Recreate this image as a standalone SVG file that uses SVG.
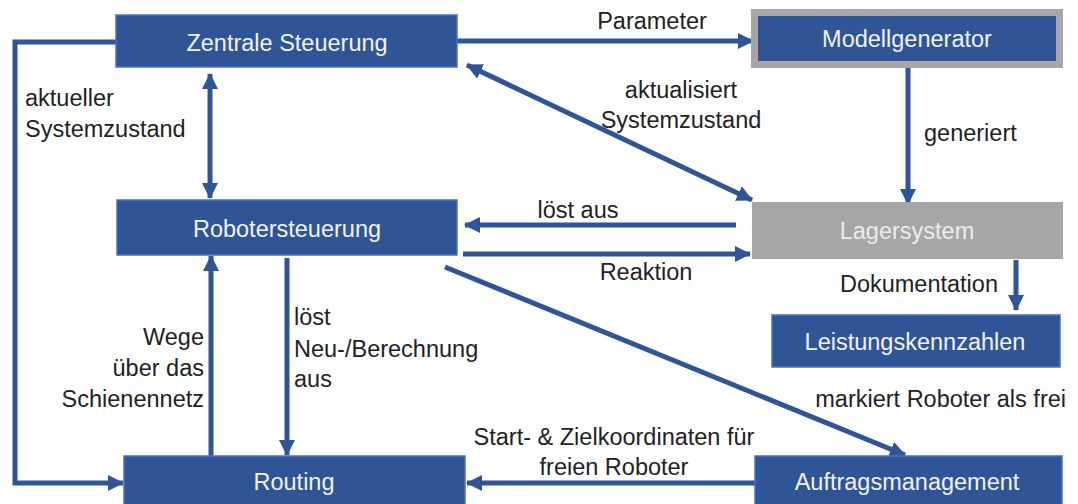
<svg xmlns="http://www.w3.org/2000/svg" width="1078" height="504" viewBox="0 0 1078 504">
<defs>
<style>
.box{fill:#2f5597;stroke:#4a72bd;stroke-width:1.5}
.gray{fill:#a6a6a6}
.bt{font-family:"Liberation Sans",Arial,sans-serif;font-size:23.5px;fill:#f2f2f2;text-anchor:middle}
.gt{font-family:"Liberation Sans",Arial,sans-serif;font-size:23.5px;fill:#ececec;text-anchor:middle}
.lb{font-family:"Liberation Sans",Arial,sans-serif;font-size:23.5px;fill:#222}
.c{fill:none;stroke:#2f5597;stroke-width:5}
</style>
<marker id="ah" viewBox="0 0 16 16" refX="15" refY="8" markerWidth="16" markerHeight="16" markerUnits="userSpaceOnUse" orient="auto-start-reverse">
<path d="M0,0 L16,8 L0,16 z" fill="#2f5597"/>
</marker>
</defs>

<g id="connectors">
<polyline class="c" points="116,42 15,42 15,483 123,483" marker-end="url(#ah)"/>
<line class="c" x1="457" y1="41" x2="753" y2="41" marker-end="url(#ah)"/>
<line class="c" x1="210" y1="74" x2="210" y2="198" marker-start="url(#ah)" marker-end="url(#ah)"/>
<line class="c" x1="467" y1="65" x2="752" y2="200" marker-start="url(#ah)" marker-end="url(#ah)"/>
<line class="c" x1="908" y1="68" x2="908" y2="204" marker-end="url(#ah)"/>
<line class="c" x1="736" y1="225" x2="465" y2="225" marker-end="url(#ah)"/>
<line class="c" x1="463" y1="254" x2="750" y2="254" marker-end="url(#ah)"/>
<line class="c" x1="1016" y1="260" x2="1016" y2="310" marker-end="url(#ah)"/>
<line class="c" x1="211" y1="456" x2="211" y2="256" marker-end="url(#ah)"/>
<line class="c" x1="287" y1="258" x2="287" y2="455" marker-end="url(#ah)"/>
<line class="c" x1="445" y1="267" x2="905" y2="455" marker-end="url(#ah)"/>
<line class="c" x1="755" y1="483" x2="467" y2="483" marker-end="url(#ah)"/>
</g>

<g id="labels">
<text class="lb" x="25" y="106">aktueller</text>
<text class="lb" x="25" y="137">Systemzustand</text>
<text class="lb" x="652" y="29" text-anchor="middle">Parameter</text>
<text class="lb" x="681" y="98" text-anchor="middle">aktualisiert</text>
<text class="lb" x="681" y="128" text-anchor="middle">Systemzustand</text>
<text class="lb" x="924" y="141">generiert</text>
<text class="lb" x="578" y="218" text-anchor="middle">löst aus</text>
<text class="lb" x="646" y="280" text-anchor="middle">Reaktion</text>
<text class="lb" x="998" y="292" text-anchor="end">Dokumentation</text>
<text class="lb" x="204" y="345" text-anchor="end">Wege</text>
<text class="lb" x="204" y="376" text-anchor="end">über das</text>
<text class="lb" x="204" y="407" text-anchor="end">Schienennetz</text>
<text class="lb" x="294" y="325">löst</text>
<text class="lb" x="294" y="357">Neu-/Berechnung</text>
<text class="lb" x="294" y="387">aus</text>
<text class="lb" x="1066" y="407" text-anchor="end">markiert Roboter als frei</text>
<text class="lb" x="614" y="445" text-anchor="middle">Start- &amp; Zielkoordinaten für</text>
<text class="lb" x="614" y="475" text-anchor="middle">freien Roboter</text>
</g>

<g id="zentrale">
<rect class="box" x="116" y="15" width="341" height="52"/>
<text class="bt" x="287" y="51">Zentrale Steuerung</text>
</g>
<g id="modellgenerator">
<rect x="754.5" y="12.5" width="305" height="52" fill="#2f5597" stroke="#a6a6a6" stroke-width="7"/>
<text class="bt" x="907" y="47">Modellgenerator</text>
</g>
<g id="robotersteuerung">
<rect class="box" x="117" y="200" width="340" height="55"/>
<text class="bt" x="287" y="237">Robotersteuerung</text>
</g>
<g id="lagersystem">
<rect class="gray" x="752" y="202" width="311" height="57"/>
<text class="gt" x="907" y="239">Lagersystem</text>
</g>
<g id="leistungskennzahlen">
<rect class="box" x="772" y="315" width="288" height="52"/>
<text class="bt" x="915" y="350">Leistungskennzahlen</text>
</g>
<g id="routing">
<rect class="box" x="124" y="456" width="341" height="60"/>
<text class="bt" x="294" y="490">Routing</text>
</g>
<g id="auftragsmanagement">
<rect class="box" x="755" y="456" width="307" height="60"/>
<text class="bt" x="907" y="490">Auftragsmanagement</text>
</g>
</svg>
